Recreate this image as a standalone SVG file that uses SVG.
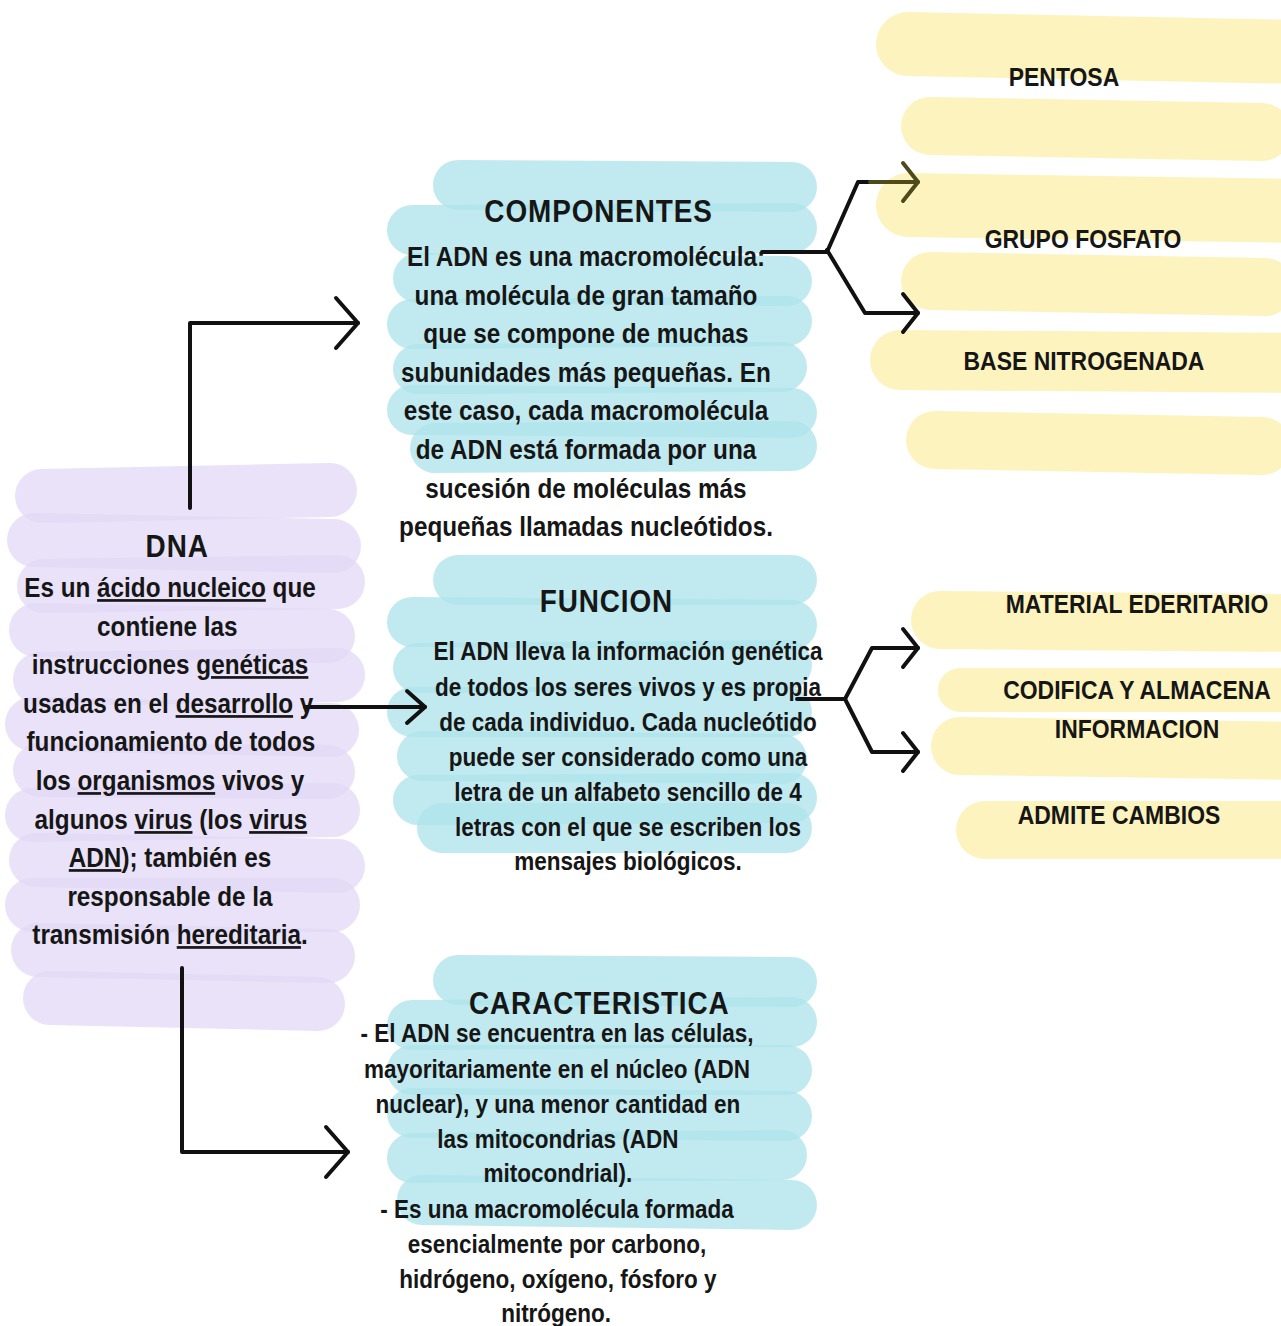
<svg xmlns="http://www.w3.org/2000/svg" width="1281" height="1326" viewBox="0 0 1281 1326">
<defs>
<style>
.pu{stroke:#e2d8f6;stroke-linecap:round;opacity:.75;fill:none}
.cy{stroke:#ace3eb;stroke-linecap:round;opacity:.75;fill:none}
.ye{stroke:#fcefa8;stroke-linecap:round;opacity:.75;fill:none}
.t{font-family:"Liberation Sans",Arial,sans-serif;font-weight:bold;fill:#161616;text-anchor:middle}
.h{font-size:31px;letter-spacing:1px}
.b1{font-size:27px}
.b2{font-size:25px}
.lab{font-size:25.5px}
.u{text-decoration:underline}
.c{fill:none;stroke:#111;stroke-width:4;stroke-linejoin:round;stroke-linecap:round}
</style>
<marker id="big" markerUnits="userSpaceOnUse" markerWidth="60" markerHeight="60" viewBox="-30 -30 60 60" refX="0" refY="0" orient="auto">
<path d="M-22,-25 L0,0 L-22,25" fill="none" stroke="#111" stroke-width="4" stroke-linecap="round" stroke-linejoin="round"/>
</marker>
<marker id="mid" markerUnits="userSpaceOnUse" markerWidth="50" markerHeight="50" viewBox="-25 -25 50 50" refX="0" refY="0" orient="auto">
<path d="M-18,-16 L0,0 L-18,16" fill="none" stroke="#111" stroke-width="4" stroke-linecap="round" stroke-linejoin="round"/>
</marker>
<marker id="sm" markerUnits="userSpaceOnUse" markerWidth="50" markerHeight="50" viewBox="-25 -25 50 50" refX="0" refY="0" orient="auto">
<path d="M-15,-19 L0,0 L-15,19" fill="none" stroke="#111" stroke-width="4" stroke-linecap="round" stroke-linejoin="round"/>
</marker>
<marker id="smo" markerUnits="userSpaceOnUse" markerWidth="50" markerHeight="50" viewBox="-25 -25 50 50" refX="0" refY="0" orient="auto">
<path d="M-15,-19 L0,0 L-15,19" fill="none" stroke="#4f4a1c" stroke-width="4" stroke-linecap="round" stroke-linejoin="round"/>
</marker>
</defs>
<rect width="1281" height="1326" fill="#ffffff"/>

<g id="bg-purple" stroke-width="54">
<line class="pu" x1="42" y1="496" x2="330" y2="490"/>
<line class="pu" x1="34" y1="540" x2="334" y2="546"/>
<line class="pu" x1="44" y1="586" x2="338" y2="582"/>
<line class="pu" x1="36" y1="630" x2="328" y2="636"/>
<line class="pu" x1="40" y1="679" x2="338" y2="675"/>
<line class="pu" x1="32" y1="724" x2="332" y2="730"/>
<line class="pu" x1="40" y1="770" x2="328" y2="772"/>
<line class="pu" x1="32" y1="815" x2="333" y2="810"/>
<line class="pu" x1="36" y1="860" x2="338" y2="866"/>
<line class="pu" x1="32" y1="905" x2="333" y2="905"/>
<line class="pu" x1="38" y1="950" x2="328" y2="956"/>
<line class="pu" x1="50" y1="998" x2="318" y2="1004"/>
</g>

<g id="bg-cyan" stroke-width="50">
<line class="cy" x1="458" y1="185" x2="792" y2="187"/>
<line class="cy" x1="412" y1="230" x2="792" y2="228"/>
<line class="cy" x1="418" y1="278" x2="787" y2="281"/>
<line class="cy" x1="412" y1="324" x2="787" y2="321"/>
<line class="cy" x1="418" y1="369" x2="782" y2="367"/>
<line class="cy" x1="412" y1="410" x2="792" y2="413"/>
<line class="cy" x1="435" y1="448" x2="792" y2="446"/>

<line class="cy" x1="458" y1="580" x2="792" y2="580"/>
<line class="cy" x1="412" y1="622" x2="792" y2="625"/>
<line class="cy" x1="418" y1="668" x2="787" y2="665"/>
<line class="cy" x1="412" y1="712" x2="787" y2="712"/>
<line class="cy" x1="422" y1="756" x2="782" y2="759"/>
<line class="cy" x1="418" y1="800" x2="792" y2="798"/>
<line class="cy" x1="442" y1="828" x2="787" y2="828"/>

<line class="cy" x1="458" y1="980" x2="792" y2="982"/>
<line class="cy" x1="412" y1="1025" x2="792" y2="1022"/>
<line class="cy" x1="412" y1="1070" x2="787" y2="1070"/>
<line class="cy" x1="412" y1="1113" x2="787" y2="1116"/>
<line class="cy" x1="412" y1="1158" x2="782" y2="1155"/>
<line class="cy" x1="422" y1="1200" x2="792" y2="1205"/>
</g>

<g id="bg-yellow">
<line class="ye" stroke-width="64" x1="908" y1="44" x2="1300" y2="52"/>
<line class="ye" stroke-width="58" x1="930" y1="126" x2="1262" y2="132"/>
<line class="ye" stroke-width="64" x1="908" y1="205" x2="1300" y2="211"/>
<line class="ye" stroke-width="58" x1="930" y1="281" x2="1265" y2="287"/>
<line class="ye" stroke-width="60" x1="900" y1="360" x2="1300" y2="363"/>
<line class="ye" stroke-width="58" x1="935" y1="440" x2="1262" y2="446"/>
<line class="ye" stroke-width="58" x1="940" y1="620" x2="1300" y2="623"/>
<line class="ye" stroke-width="44" x1="960" y1="690" x2="1300" y2="690"/>
<line class="ye" stroke-width="58" x1="960" y1="746" x2="1300" y2="751"/>
<line class="ye" stroke-width="58" x1="985" y1="830" x2="1300" y2="830"/>
</g>

<g id="connectors">
<path class="c" d="M190,508 V323 H358" marker-end="url(#big)"/>
<path class="c" d="M305,707 H425" marker-end="url(#mid)"/>
<path class="c" d="M182,968 V1152 H348" marker-end="url(#big)"/>
<path class="c" d="M762,252 H827 L858,182 H870"/>
<path class="c" d="M870,182 H918" style="stroke:#4f4a1c" marker-end="url(#smo)"/>
<path class="c" d="M827,250 L865,313 H918" marker-end="url(#sm)"/>
<path class="c" d="M797,699 H845 L872,648 H918" marker-end="url(#sm)"/>
<path class="c" d="M845,699 L872,752 H918" marker-end="url(#sm)"/>
</g>

<g id="node-dna" class="t" transform="matrix(0.9,0,0,1,17,0)">
<text class="h" x="178" y="557">DNA</text>
<text class="b1" x="170" y="597">Es un <tspan class="u">ácido nucleico</tspan> que</text>
<text class="b1" x="167" y="636">contiene las</text>
<text class="b1" x="170" y="674">instrucciones <tspan class="u">genéticas</tspan></text>
<text class="b1" x="168" y="713">usadas en el <tspan class="u">desarrollo</tspan> y</text>
<text class="b1" x="171" y="751">funcionamiento de todos</text>
<text class="b1" x="170" y="790">los <tspan class="u">organismos</tspan> vivos  y</text>
<text class="b1" x="171" y="829">algunos <tspan class="u">virus</tspan> (los <tspan class="u">virus</tspan></text>
<text class="b1" x="170" y="867"><tspan class="u">ADN</tspan>); también es</text>
<text class="b1" x="170" y="906">responsable de la</text>
<text class="b1" x="170" y="944">transmisión <tspan class="u">hereditaria</tspan>.</text>
</g>

<g id="node-componentes" class="t" transform="matrix(0.9,0,0,1,58.6,0)">
<text class="h" x="600" y="222">COMPONENTES</text>
<text class="b1" x="586" y="266">El ADN es una macromolécula:</text>
<text class="b1" x="586" y="305">una molécula de gran tamaño</text>
<text class="b1" x="586" y="343">que se compone de muchas</text>
<text class="b1" x="586" y="382">subunidades más pequeñas. En</text>
<text class="b1" x="586" y="420">este caso, cada macromolécula</text>
<text class="b1" x="586" y="459">de ADN está formada por una</text>
<text class="b1" x="586" y="498">sucesión de moléculas más</text>
<text class="b1" x="586" y="536">pequeñas llamadas nucleótidos.</text>
</g>

<g id="node-funcion" class="t" transform="matrix(0.9,0,0,1,62.8,0)">
<text class="h" x="604" y="612">FUNCION</text>
<text class="b2" x="628" y="660">El ADN lleva la información genética</text>
<text class="b2" x="628" y="696">de todos los seres vivos y es propia</text>
<text class="b2" x="628" y="731">de cada individuo. Cada nucleótido</text>
<text class="b2" x="628" y="766">puede ser considerado como una</text>
<text class="b2" x="628" y="801">letra de un alfabeto sencillo de 4</text>
<text class="b2" x="628" y="836">letras con el que se escriben los</text>
<text class="b2" x="628" y="870">mensajes biológicos.</text>
</g>

<g id="node-caracteristica" class="t" transform="matrix(0.9,0,0,1,55.7,0)">
<text class="h" x="604" y="1014">CARACTERISTICA</text>
<text class="b2" x="557" y="1042">- El ADN se encuentra en las células,</text>
<text class="b2" x="557" y="1078">mayoritariamente en el núcleo (ADN</text>
<text class="b2" x="558" y="1113">nuclear), y una menor cantidad en</text>
<text class="b2" x="558" y="1148">las mitocondrias (ADN</text>
<text class="b2" x="558" y="1182">mitocondrial).</text>
<text class="b2" x="557" y="1218">- Es una macromolécula formada</text>
<text class="b2" x="557" y="1253">esencialmente por carbono,</text>
<text class="b2" x="558" y="1288">hidrógeno, oxígeno, fósforo y</text>
<text class="b2" x="556" y="1322">nitrógeno.</text>
</g>

<g id="node-pentosa" class="t" transform="matrix(0.9,0,0,1,106.4,0)"><text class="lab" x="1064" y="86">PENTOSA</text></g>
<g id="node-fosfato" class="t" transform="matrix(0.9,0,0,1,108.3,0)"><text class="lab" x="1083" y="248">GRUPO FOSFATO</text></g>
<g id="node-base" class="t" transform="matrix(0.9,0,0,1,108.4,0)"><text class="lab" x="1084" y="370">BASE NITROGENADA</text></g>
<g id="node-material" class="t" transform="matrix(0.9,0,0,1,113.7,0)"><text class="lab" x="1137" y="613">MATERIAL EDERITARIO</text></g>
<g id="node-codifica" class="t" transform="matrix(0.9,0,0,1,113.7,0)"><text class="lab" x="1137" y="699">CODIFICA Y ALMACENA</text><text class="lab" x="1137" y="738">INFORMACION</text></g>
<g id="node-admite" class="t" transform="matrix(0.9,0,0,1,111.9,0)"><text class="lab" x="1119" y="824">ADMITE CAMBIOS</text></g>
</svg>
